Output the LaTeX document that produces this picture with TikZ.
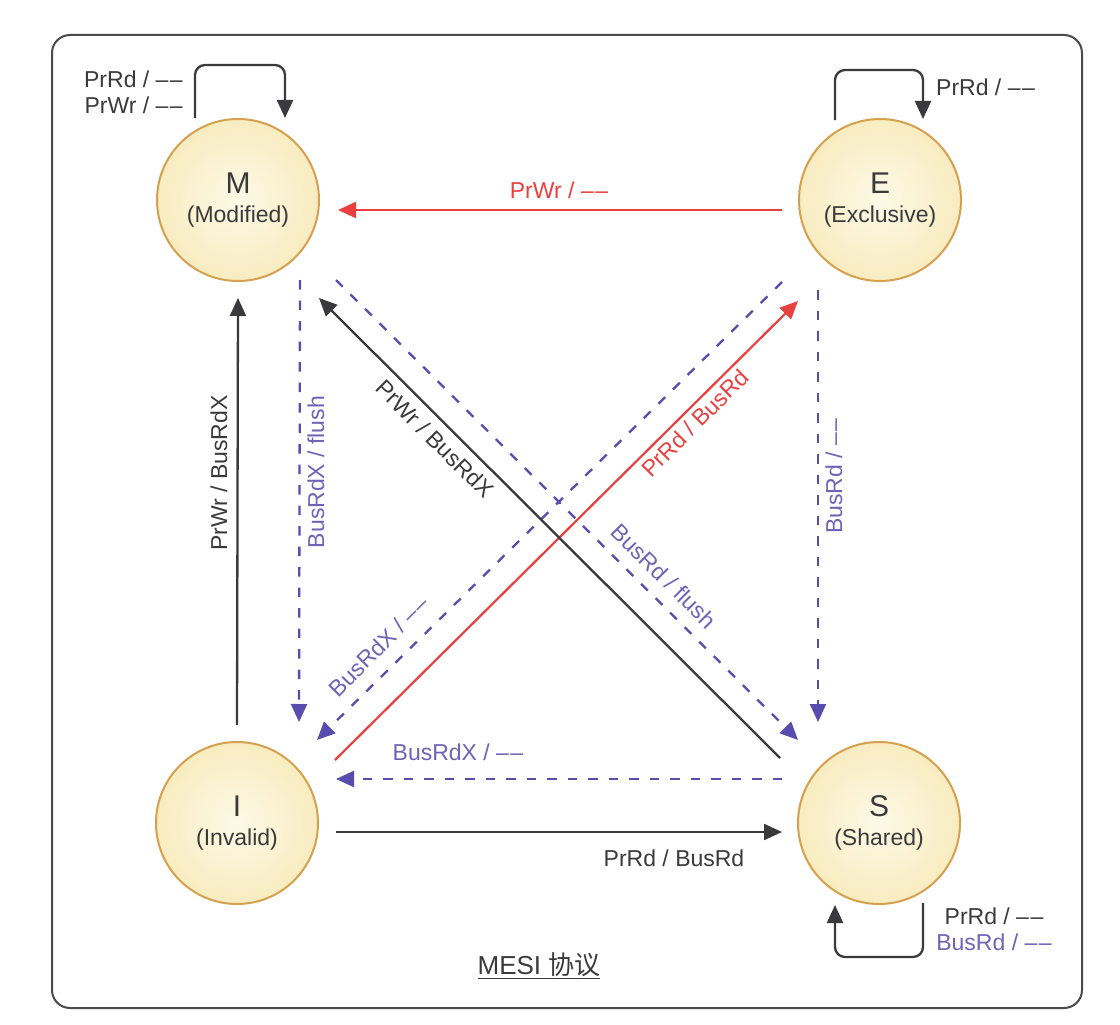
\documentclass[tikz,border=0pt]{standalone}
\usepackage{fontspec}
\setmainfont{Liberation Sans}
\newfontfamily\cjk{Noto Sans CJK SC}
\usetikzlibrary{arrows.meta,calc}
\definecolor{dk}{HTML}{3A3A3C}
\definecolor{rd}{HTML}{E8403F}
\definecolor{pu}{HTML}{5A4BAE}
\definecolor{pul}{HTML}{6F63B6}
\definecolor{cin}{HTML}{FDF9E6}
\definecolor{cout}{HTML}{F8ECC0}
\definecolor{cedge}{HTML}{D6A04E}
\definecolor{frm}{HTML}{4A4A4C}
\newcommand{\dsh}{\textendash\hspace{1.5pt}\textendash}
\newcommand{\stxt}[2]{{\fontsize{30}{30}\selectfont\raisebox{-3pt}{#1}}\\\raisebox{-3pt}{#2}}
\begin{document}
\begin{tikzpicture}[x=1pt,y=-1pt,
 state/.style={circle,draw=cedge,line width=2pt,inner color=cin,outer color=cout,minimum size=162pt,inner sep=0pt,align=center,text=dk,font=\fontsize{23}{29}\selectfont},
 lbl/.style={font=\fontsize{23}{26}\selectfont,inner sep=1pt,text=dk},
 plbl/.style={lbl,text=pul},
 rlbl/.style={lbl,text=rd},
 tipk/.style={-{Triangle[length=18pt,width=16pt]}},
 solidarr/.style={draw=dk,line width=2.3pt,tipk},
 redarr/.style={draw=rd,line width=2.2pt,tipk},
 dasharr/.style={draw=pu,line width=2.3pt,dash pattern=on 9.5pt off 11pt,tipk},
]
\useasboundingbox (0,0) rectangle (1120,1025);
\fill[white] (0,0) rectangle (1120,1025);
\draw[frm,line width=2pt,rounded corners=18pt] (52,35) rectangle (1082,1008);

% states
\node[state] (M) at (238,200) {\stxt{M}{(Modified)}};
\node[state] (E) at (880,200) {\stxt{E}{(Exclusive)}};
\node[state] (I) at (237,823) {\stxt{I}{(Invalid)}};
\node[state] (S) at (879,823) {\stxt{S}{(Shared)}};

% self loops
\draw[solidarr,rounded corners=10pt] ($(M)+(-43,-82)$) -- ++(0,-53) -| ($(M)+(47,-82)$);
\draw[solidarr,rounded corners=10pt] ($(E)+(-45,-80)$) -- ++(0,-50) -| ($(E)+(43,-81)$);
\draw[solidarr,rounded corners=10pt] ($(S)+(44,80)$) -- ++(0,54) -| ($(S)+(-44,82)$);

\node[lbl,anchor=east,align=right] (mloop) at (184,92) {PrRd / \dsh\\PrWr / \dsh};
\node[lbl,anchor=west] (eloop) at (935,87) {PrRd / \dsh};
\node[lbl,align=center] (sloop) at (994,929) {PrRd / \dsh\\\textcolor{pul}{BusRd / \dsh}};

% E -> M
\draw[redarr] ($(E)+(-98,10)$) -- ($(M)+(100,10)$);
\node[rlbl] (l1) at ($(M)!0.5!(E)+(0,-10)$) {PrWr / \dsh};
% I -> M
\draw[solidarr] ($(I)+(0,-98)$) -- ($(M)+(0,98)$);
\node[lbl,rotate=90] (l2) at ($(M)+(-19,273)$) {PrWr / BusRdX};
% M -> I
\draw[dasharr] ($(M)+(62,80)$) -- ($(I)+(62,-101)$);
\node[plbl,rotate=90] (l3) at ($(M)+(78,272)$) {BusRdX / flush};
% E -> S
\draw[dasharr] ($(E)+(-62,90)$) -- ($(S)+(-61,-101)$);
\node[plbl,rotate=90] (l4) at ($(E)+(-46,276)$) {BusRd / \dsh};
% E -> I
\draw[dasharr] ($(E)+(-98,82)$) -- ($(I)+(80,-83)$);
\node[plbl,rotate=45] (l5) at ($(I)+(142,-177)$) {BusRdX / \dsh};
% I -> E
\draw[redarr] ($(I)+(98,-63)$) -- ($(E)+(-82,101)$);
\node[rlbl,rotate=45] (l6) at ($(E)+(-185,223)$) {PrRd / BusRd};
% M -> S
\draw[dasharr] ($(M)+(98,80)$) -- ($(S)+(-81,-83)$);
\node[plbl,rotate=-45] (l7) at ($(S)+(-215,-247)$) {BusRd / flush};
% S -> M
\draw[solidarr] ($(S)+(-99,-65)$) -- ($(M)+(81,98)$);
\node[lbl,rotate=-45] (l8) at ($(M)+(197,239)$) {PrWr / BusRdX};
% S -> I
\draw[dasharr] ($(S)+(-97,-44)$) -- ($(I)+(99,-44)$);
\node[plbl] (l9) at ($(I)+(221,-71)$) {BusRdX / \dsh};
% I -> S
\draw[solidarr] ($(I)+(99,9)$) -- ($(S)+(-97,9)$);
\node[lbl] (l10) at ($(I)+(437,35)$) {PrRd / BusRd};

% title
\node[text=dk,font=\fontsize{26}{30}\selectfont] (title) at (539,966) {\underline{MESI {\cjk 协议}}};
\end{tikzpicture}
\end{document}
